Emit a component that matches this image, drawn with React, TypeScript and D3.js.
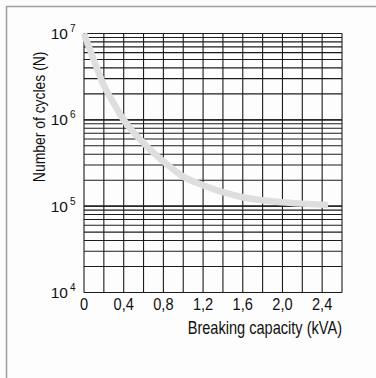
import React from "react";
import * as d3 from "d3";

// breaking capacity (kVA) vs number of cycles
const capacity = [0, 0.1, 0.2, 0.3, 0.4, 0.6, 0.8, 1.0, 1.2, 1.4, 1.6, 1.8, 2.0, 2.2, 2.46];
const cycles = [1e7, 4.9e6, 2.5e6, 1.55e6, 1.0e6, 5.4e5, 3.3e5, 2.2e5, 1.75e5, 1.45e5, 1.27e5, 1.17e5, 1.11e5, 1.07e5, 1.03e5];

const xTicks = [0, 0.4, 0.8, 1.2, 1.6, 2.0, 2.4];
const xTickLabels = ["0", "0,4", "0,8", "1,2", "1,6", "2,0", "2,4"];
const yExponents = [4, 5, 6, 7];

const FONT = "'Liberation Sans', Arial, sans-serif";

export default function App() {
  const width = 376;
  const height = 378;
  const margin = { left: 84, right: 34, top: 33.5, bottom: 85.5 };

  const x = d3.scaleLinear().domain([0, 2.6]).range([margin.left, width - margin.right]);
  const y = d3.scaleLog().domain([1e4, 1e7]).range([height - margin.bottom, margin.top]);

  const vGrid = d3.range(0, 2.6001, 0.2);
  const hGrid: number[] = [];
  for (const e of [4, 5, 6]) {
    for (let m = 1; m <= 10; m++) hGrid.push(m * Math.pow(10, e));
  }

  const line = d3
    .line<number>()
    .x((d, i) => x(capacity[i]))
    .y((d) => y(d))
    .curve(d3.curveMonotoneX);

  return (
    <svg
      width={width}
      height={height}
      style={{ position: "absolute", left: 0, top: 0, background: "#fdfdfd" }}
      fontFamily={FONT}
    >
      <rect x={6.5} y={6.5} width={width} height={height} fill="none" stroke="#a0a0a0" strokeWidth={1.5} />

      <g stroke="#1c1c1c" strokeWidth={1.1}>
        {hGrid.map((v, i) => (
          <line key={"h" + i} x1={x(0)} x2={x(2.6)} y1={y(v)} y2={y(v)} />
        ))}
        {vGrid.map((v, i) => (
          <line key={"v" + i} x1={x(v)} x2={x(v)} y1={y(1e7)} y2={y(1e4)} />
        ))}
      </g>

      <path d={line(cycles) ?? ""} fill="none" stroke="#dedede" strokeWidth={6.5} strokeLinecap="butt" />

      {yExponents.map((e) => (
        <text key={"y" + e} x={75.5} y={y(Math.pow(10, e)) + 5.5} textAnchor="end" fontSize={15.5} fill="#111">
          10
          <tspan fontSize={10} dx={2} dy={-7}>
            {e}
          </tspan>
        </text>
      ))}

      {xTicks.map((t, i) => (
        <text
          key={"x" + i}
          transform={`translate(${x(t)}, 310) scale(0.86, 1)`}
          textAnchor="middle"
          fontSize={17}
          fill="#111"
        >
          {xTickLabels[i]}
        </text>
      ))}

      <text transform={`translate(${x(2.6)}, 334) scale(0.81, 1)`} textAnchor="end" fontSize={18} fill="#111">
        Breaking capacity (kVA)
      </text>
      <text
        transform={`translate(45, ${(y(1e7) + y(1e5)) / 2 - 3}) rotate(-90) scale(0.87, 1)`}
        textAnchor="middle"
        fontSize={16}
        fill="#111"
      >
        Number of cycles (N)
      </text>
    </svg>
  );
}
